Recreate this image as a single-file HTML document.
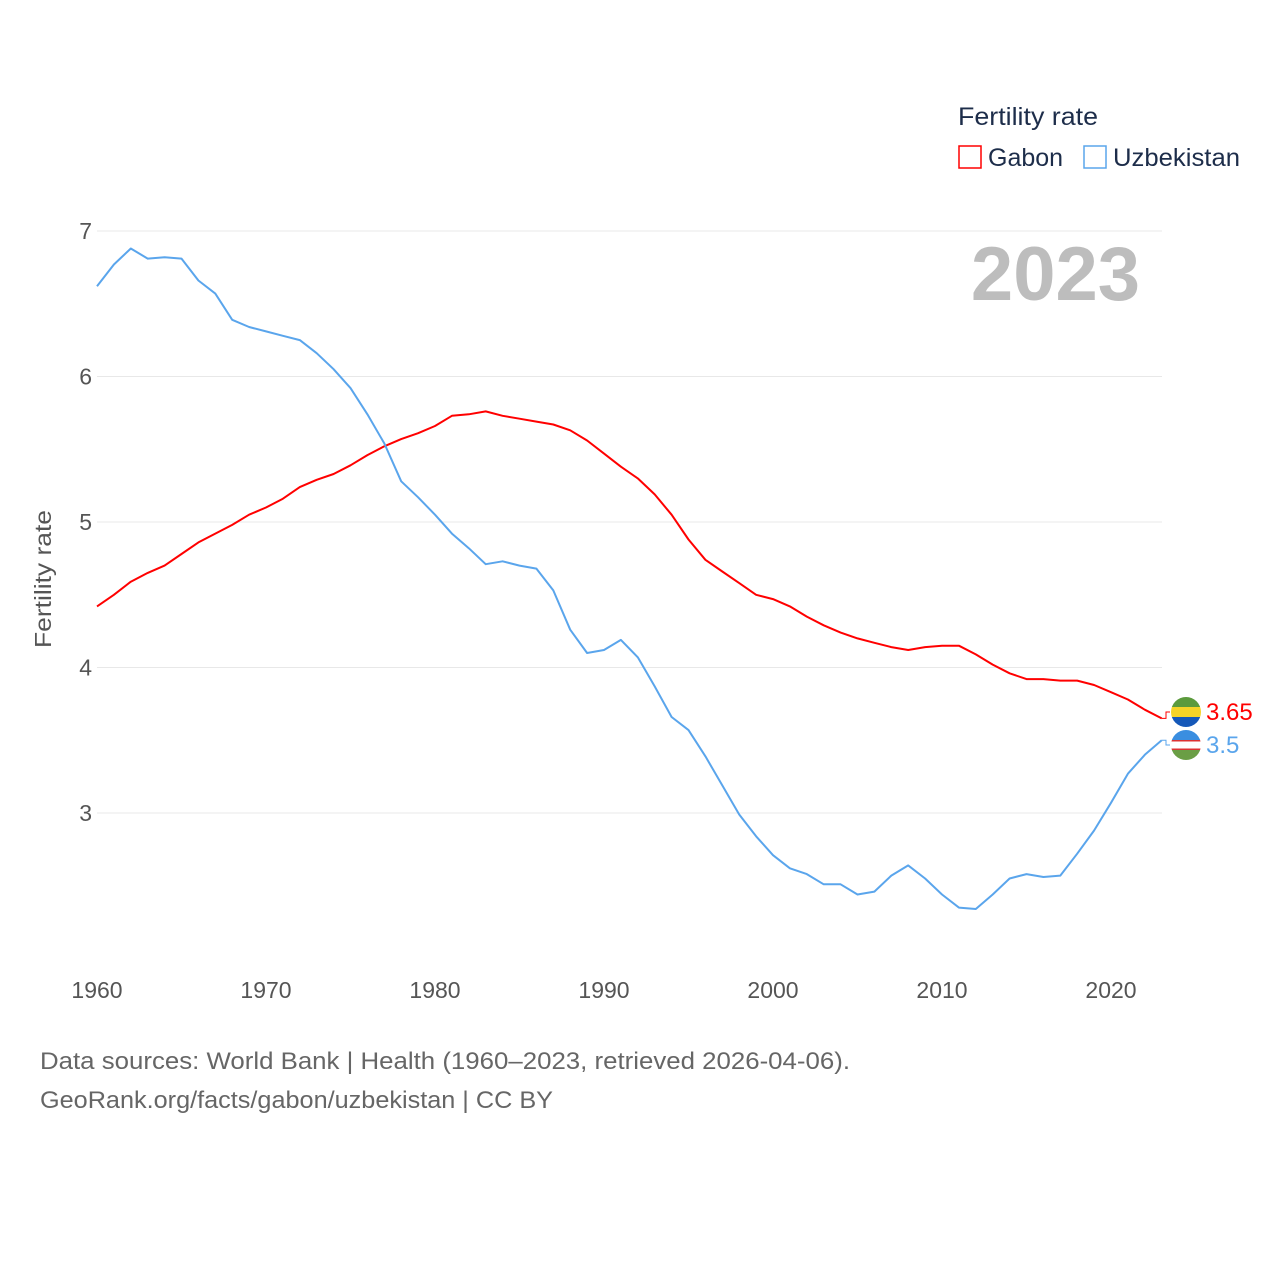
<!DOCTYPE html>
<html><head><meta charset="utf-8">
<style>
html,body{margin:0;padding:0;background:#fff;}
svg{display:block;font-family:"Liberation Sans",sans-serif;}
</style></head>
<body>
<svg id="chart" width="1280" height="1280" viewBox="0 0 1280 1280">
  <g id="grid"></g>
  <g id="yticks"></g>
  <g id="xticks"></g>
  <text transform="translate(51,579) rotate(-90)" text-anchor="middle" font-size="23" fill="#555" textLength="138" lengthAdjust="spacingAndGlyphs">Fertility rate</text>
  <text x="1140" y="300" text-anchor="end" font-size="76" font-weight="bold" fill="#bdbdbd">2023</text>
  <g id="series"></g>
  <g>
    <text x="958" y="125" font-size="25" fill="#1d2d4a" textLength="140" lengthAdjust="spacingAndGlyphs">Fertility rate</text>
    <g>
      <rect x="959" y="146" width="22" height="22" fill="none" stroke="#ff0000" stroke-width="1.5"/>
      <text x="988" y="166" font-size="25" fill="#1d2d4a">Gabon</text>
    </g>
    <g>
      <rect x="1084" y="146" width="22" height="22" fill="none" stroke="#5aa5ec" stroke-width="1.5"/>
      <text x="1113" y="166" font-size="25" fill="#1d2d4a" textLength="127" lengthAdjust="spacingAndGlyphs">Uzbekistan</text>
    </g>
  </g>
  <defs>
    <clipPath id="c1"><circle cx="1186" cy="712" r="15"/></clipPath>
    <clipPath id="c2"><circle cx="1186" cy="745" r="15"/></clipPath>
  </defs>
  <g clip-path="url(#c1)">
    <rect x="1170" y="696" width="32" height="11" fill="#5b9a3c"/>
    <rect x="1170" y="707" width="32" height="10" fill="#f5d327"/>
    <rect x="1170" y="717" width="32" height="12" fill="#1558b8"/>
  </g>
  <g clip-path="url(#c2)">
    <rect x="1170" y="729" width="32" height="11" fill="#3a8ee0"/>
    <rect x="1170" y="740" width="32" height="10" fill="#fff"/>
    <rect x="1170" y="740" width="32" height="1.5" fill="#d33"/>
    <rect x="1170" y="748.5" width="32" height="1.5" fill="#d33"/>
    <rect x="1170" y="750" width="32" height="12" fill="#6a9e45"/>
  </g>
  <g id="endlabels"></g>
  <text x="40" y="1069" font-size="24" fill="#666" textLength="810" lengthAdjust="spacingAndGlyphs">Data sources: World Bank | Health (1960–2023, retrieved 2026-04-06).</text>
  <text x="40" y="1108" font-size="24" fill="#666" textLength="513" lengthAdjust="spacingAndGlyphs">GeoRank.org/facts/gabon/uzbekistan | CC BY</text>
</svg>
<script>
const years = [];
for (let y = 1960; y <= 2023; y++) years.push(y);
const gabon = [4.42,4.50,4.59,4.65,4.70,4.78,4.86,4.92,4.98,5.05,5.10,5.16,5.24,5.29,5.33,5.39,5.46,5.52,5.57,5.61,5.66,5.73,5.74,5.76,5.73,5.71,5.69,5.67,5.63,5.56,5.47,5.38,5.30,5.19,5.05,4.88,4.74,4.66,4.58,4.50,4.47,4.42,4.35,4.29,4.24,4.20,4.17,4.14,4.12,4.14,4.15,4.15,4.09,4.02,3.96,3.92,3.92,3.91,3.91,3.88,3.83,3.78,3.71,3.65];
const uzbekistan = [6.62,6.77,6.88,6.81,6.82,6.81,6.66,6.57,6.39,6.34,6.31,6.28,6.25,6.16,6.05,5.92,5.74,5.54,5.28,5.17,5.05,4.92,4.82,4.71,4.73,4.70,4.68,4.53,4.26,4.10,4.12,4.19,4.07,3.87,3.66,3.57,3.39,3.19,2.99,2.84,2.71,2.62,2.58,2.51,2.51,2.44,2.46,2.57,2.64,2.55,2.44,2.35,2.34,2.44,2.55,2.58,2.56,2.57,2.72,2.88,3.07,3.27,3.40,3.50];
const yTicks = [3,4,5,6,7];
const xTicks = [1960,1970,1980,1990,2000,2010,2020];
const endLabels = ["3.65","3.5"];

const NS = "http://www.w3.org/2000/svg";
const xs = y => 97 + (y - 1960) * (1111 - 97) / 60;
const ys = v => 813 - (v - 3) * (813 - 231) / 4;
function el(tag, attrs, parent) {
  const e = document.createElementNS(NS, tag);
  for (const k in attrs) e.setAttribute(k, attrs[k]);
  parent.appendChild(e);
  return e;
}
const grid = document.getElementById('grid');
const yt = document.getElementById('yticks');
yTicks.forEach(t => {
  const l = el('line', {x1: 97, x2: 1162, y1: ys(t), y2: ys(t), stroke: '#e8e8e8', 'stroke-width': 1}, grid);
  
  
  const tx = el('text', {x: 92, y: ys(t) + 8, 'text-anchor': 'end', 'font-size': 23, fill: '#555'}, yt);
  
  
  tx.textContent = t;
});
const xt = document.getElementById('xticks');
xTicks.forEach(t => {
  const tx = el('text', {x: xs(t), y: 998, 'text-anchor': 'middle', 'font-size': 23, fill: '#555'}, xt);
  
  
  tx.textContent = t;
});
const sg = document.getElementById('series');
function line(vals, color, name) {
  const d = vals.map((v, i) => (i ? 'L' : 'M') + xs(years[i]).toFixed(1) + ',' + ys(v).toFixed(1)).join(' ');
  const p = el('path', {d: d, fill: 'none', stroke: color, 'stroke-width': 2, 'stroke-linejoin': 'round'}, sg);
  
  
}
line(gabon, '#ff0000', 'line-gabon');
line(uzbekistan, '#5aa5ec', 'line-uzbekistan');
const eg = document.getElementById('endlabels');
const lastX = xs(years[years.length - 1]);
[[gabon, '#ff0000', 712, 'gabon'], [uzbekistan, '#5aa5ec', 745, 'uzbekistan']].forEach((s, i) => {
  const v = s[0][s[0].length - 1];
  const c = el('path', {d: 'M' + lastX + ',' + ys(v) + ' L1166,' + ys(v) + ' L1166,' + s[2] + ' L1170,' + s[2], fill: 'none', stroke: s[1], 'stroke-width': 1}, eg);
  
  
  const t = el('text', {x: 1206, y: s[2] + 8, 'font-size': 24, fill: s[1]}, eg);
  
  
  t.textContent = endLabels[i];
});
</script>
</body></html>
